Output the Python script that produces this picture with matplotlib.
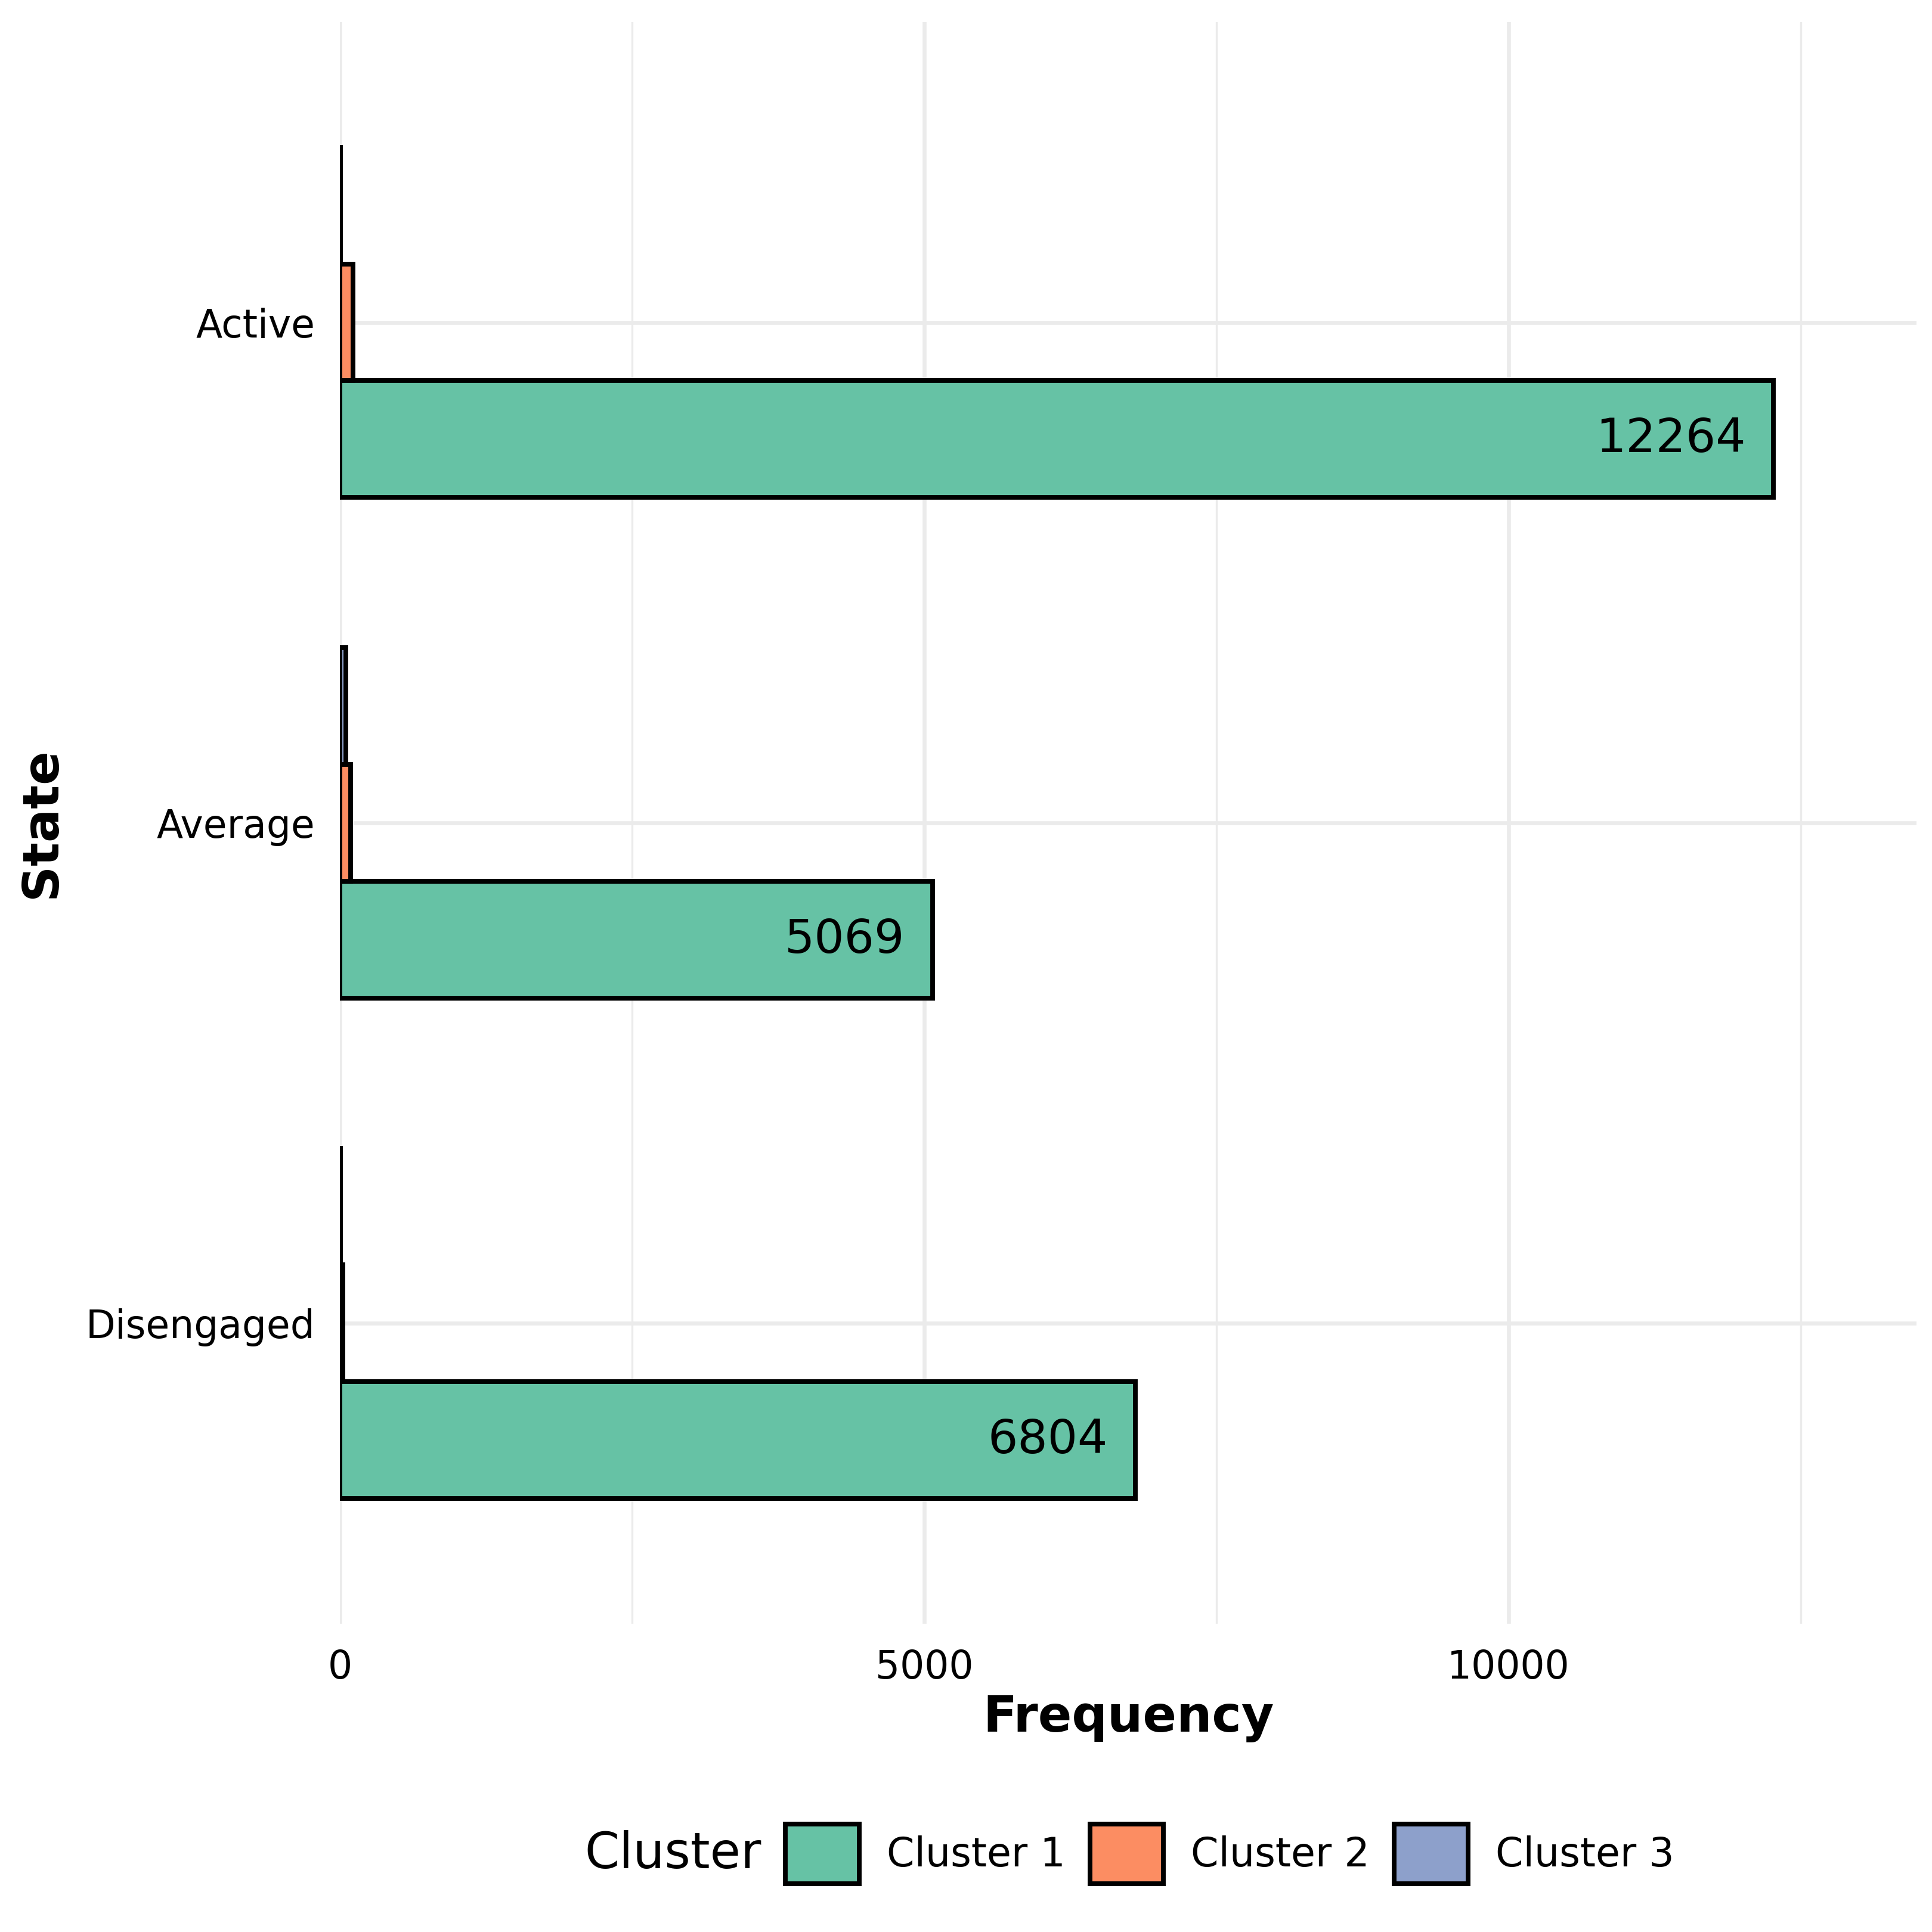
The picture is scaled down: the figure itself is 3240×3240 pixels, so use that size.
import numpy as np
import matplotlib
matplotlib.use("Agg")
import matplotlib.pyplot as plt
from matplotlib.patches import Patch

# Data
states = ["Disengaged", "Average", "Active"]
clusters = ["Cluster 1", "Cluster 2", "Cluster 3"]
cluster1 = [6804, 5069, 12264]
cluster2 = [25, 90, 110]
cluster3 = [3, 50, 3]
colors = ["#66C2A5", "#FC8D62", "#8DA0CB"]

plt.rcParams["font.family"] = "DejaVu Sans"

fig = plt.figure(figsize=(10.8, 10.8), dpi=300)
ax = fig.add_axes([0.176, 0.1596, 0.816, 0.829])

bar_h = 0.2333
y = np.arange(len(states))
series = [cluster1, cluster2, cluster3]
for i, (vals, col) in enumerate(zip(series, colors)):
    ax.barh(y + (i - 1) * bar_h, vals, height=bar_h, color=col,
            edgecolor="black", linewidth=1.9, zorder=3)

# value labels inside the cluster 1 bars
for yi, v in zip(y, cluster1):
    ax.annotate(str(v), xy=(v, yi - bar_h), xytext=(-11, 0),
                textcoords="offset points", ha="right", va="center",
                fontsize=19, zorder=4)

ax.set_xlim(0, 13490)
ax.set_ylim(-0.6, 2.6)
ax.set_xticks([0, 5000, 10000])
ax.set_xticks([2500, 7500, 12500], minor=True)
ax.set_yticks(y)
ax.set_yticklabels(states)
ax.tick_params(axis="both", which="both", length=0, labelsize=15.5, pad=10)
ax.grid(True, which="major", color="#EBEBEB", linewidth=1.6, zorder=0)
ax.grid(True, which="minor", axis="x", color="#EBEBEB", linewidth=0.8, zorder=0)
ax.set_axisbelow(True)
for s in ax.spines.values():
    s.set_visible(False)

ax.set_xlabel("Frequency", fontsize=20, fontweight="bold", labelpad=3)
ax.set_ylabel("State", fontsize=20, fontweight="bold", labelpad=8)

# Legend at the bottom
handles = [Patch(facecolor=c, edgecolor="black", linewidth=1.9, label=l)
           for c, l in zip(colors, clusters)]
fig.legend(handles=handles, loc="center left", bbox_to_anchor=(1284 / 3240, 1 - 3109 / 3240),
           ncol=3, frameon=False, fontsize=16, borderpad=0,
           handlelength=1.85, handleheight=1.95, handletextpad=0.69,
           columnspacing=0.62)
fig.text(980 / 3240, 1 - 3109 / 3240, "Cluster", fontsize=20, va="center", ha="left")

fig.savefig("out.png", dpi=300, facecolor="white")
